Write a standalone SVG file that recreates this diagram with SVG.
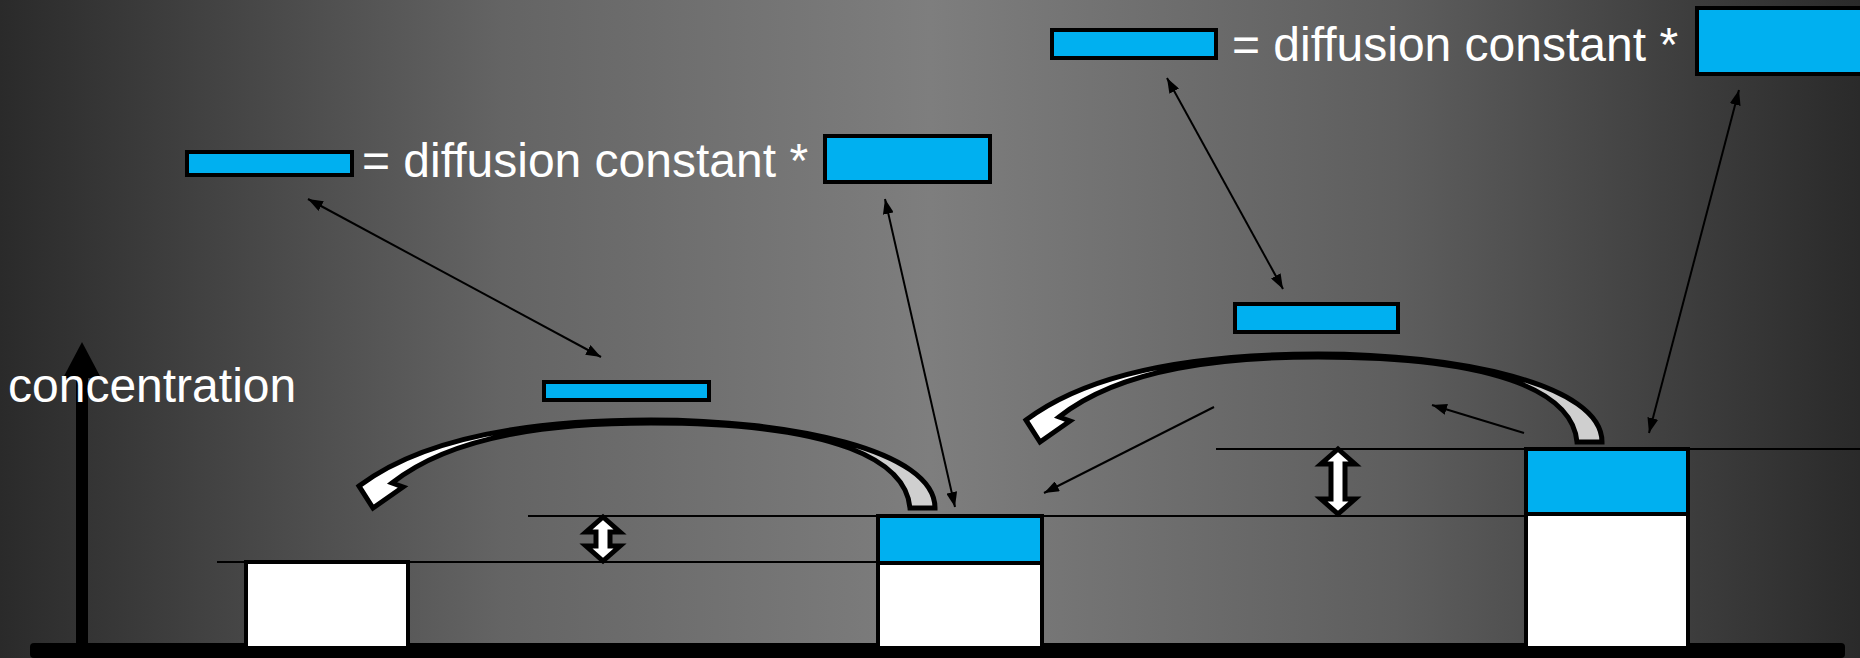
<svg xmlns="http://www.w3.org/2000/svg" xmlns:xlink="http://www.w3.org/1999/xlink" width="1860" height="658" viewBox="0 0 1860 658">
  <style>
    .blue { fill: #00B0F0; stroke: #000; stroke-width: 4; }
    .white { fill: #fff; stroke: #000; stroke-width: 4; }
    .guide { stroke: #000; stroke-width: 2; fill: none; }
    .thin { stroke: #000; stroke-width: 2; fill: none; }
    .lbl { font-family: "Liberation Sans", Arial, sans-serif; font-size: 48px; fill: #fff; }
    .dbl { fill: #fff; stroke: #000; stroke-width: 5; stroke-linejoin: miter; }
    .curve { stroke: #000; stroke-width: 5; stroke-linejoin: miter; stroke-miterlimit: 4; }
  </style>
  <defs>
    <linearGradient id="bg" x1="0" y1="0" x2="1" y2="0">
      <stop offset="0" stop-color="#2a2a2a"/>
      <stop offset="0.27" stop-color="#646464"/>
      <stop offset="0.5" stop-color="#7e7e7e"/>
      <stop offset="0.75" stop-color="#5e5e5e"/>
      <stop offset="1" stop-color="#2a2a2a"/>
    </linearGradient>
    <linearGradient id="ribbon" x1="0" y1="0" x2="1" y2="0">
      <stop offset="0" stop-color="#ffffff"/>
      <stop offset="0.6" stop-color="#ffffff"/>
      <stop offset="0.6" stop-color="#cfcfcf"/>
      <stop offset="1" stop-color="#cfcfcf"/>
    </linearGradient>
    <marker id="ah" viewBox="0 0 15 11" refX="15" refY="5.5" markerWidth="15" markerHeight="11" markerUnits="userSpaceOnUse" orient="auto-start-reverse">
      <path d="M0,0 L15,5.5 L0,11 z" fill="#000"/>
    </marker>
    <path id="curvedArrow" class="curve" fill="url(#ribbon)" d="M359,486 C420,440 520,420 651,420 C790,420 935,450 935,508 L910,508 C906,462 840,423 651,423 C560,423 455,433 392,483 L403,487 L373,508 Z"/>
  </defs>

  <rect id="background" x="0" y="0" width="1860" height="658" fill="url(#bg)"/>

  <g id="guides">
    <line class="guide" x1="217" y1="562" x2="876" y2="562"/>
    <line class="guide" x1="528" y1="516" x2="1524" y2="516"/>
    <line class="guide" x1="1216" y1="449" x2="1860" y2="449"/>
  </g>

  <g id="axes">
    <rect x="76" y="370" width="12" height="280" fill="#000"/>
    <polygon points="82,342 63,378 101,378" fill="#000"/>
    <rect x="30" y="643" width="1815" height="15" rx="4" fill="#000"/>
  </g>

  <g id="axis-label">
    <text class="lbl" x="8" y="402">concentration</text>
  </g>

  <g id="box1">
    <rect class="white" x="246" y="562" width="162" height="86"/>
  </g>
  <g id="box2">
    <rect class="white" x="878" y="563" width="164" height="85"/>
    <rect class="blue" x="878" y="516" width="164" height="47"/>
  </g>
  <g id="box3">
    <rect class="white" x="1526" y="514" width="162" height="134"/>
    <rect class="blue" x="1526" y="449" width="162" height="65"/>
  </g>

  <g id="flux-left">
    <rect class="blue" x="544" y="382" width="165" height="18"/>
  </g>
  <g id="flux-right">
    <rect class="blue" x="1235" y="304" width="163" height="28"/>
  </g>

  <g id="formula1">
    <rect class="blue" x="187" y="152" width="165" height="23"/>
    <text class="lbl" x="362" y="177">= diffusion constant *</text>
    <rect class="blue" x="825" y="136" width="165" height="46"/>
  </g>
  <g id="formula2">
    <rect class="blue" x="1052" y="30" width="164" height="28"/>
    <text class="lbl" x="1232" y="61">= diffusion constant *</text>
    <rect class="blue" x="1697" y="8" width="165" height="66"/>
  </g>

  <g id="curved-arrow-1">
    <use xlink:href="#curvedArrow" href="#curvedArrow"/>
  </g>
  <g id="curved-arrow-2">
    <use xlink:href="#curvedArrow" href="#curvedArrow" transform="translate(667,-66)"/>
  </g>

  <g id="difference-arrow-1">
    <polygon class="dbl" points="603,517 620,532 610,532 610,546 620,546 603,561 586,546 596,546 596,532 586,532"/>
  </g>
  <g id="difference-arrow-2">
    <polygon class="dbl" points="1338,449 1355,464 1345,464 1345,499 1355,499 1338,514 1321,499 1331,499 1331,464 1321,464"/>
  </g>

  <g id="connectors">
    <line class="thin" x1="308" y1="199" x2="601" y2="357" marker-start="url(#ah)" marker-end="url(#ah)"/>
    <line class="thin" x1="885" y1="199" x2="955" y2="507" marker-start="url(#ah)" marker-end="url(#ah)"/>
    <line class="thin" x1="1167" y1="78" x2="1283" y2="289" marker-start="url(#ah)" marker-end="url(#ah)"/>
    <line class="thin" x1="1739" y1="90" x2="1649" y2="433" marker-start="url(#ah)" marker-end="url(#ah)"/>
    <line class="thin" x1="1214" y1="407" x2="1044" y2="493" marker-end="url(#ah)"/>
    <line class="thin" x1="1524" y1="433" x2="1432" y2="405" marker-end="url(#ah)"/>
  </g>
</svg>
